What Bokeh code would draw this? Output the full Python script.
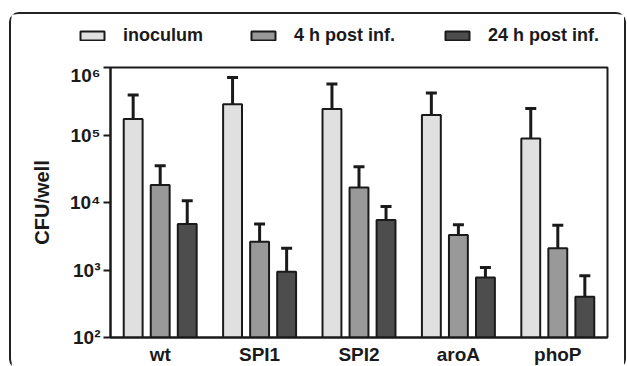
from bokeh.plotting import figure
from bokeh.layouts import column
from bokeh.models import (FactorRange, Range1d, FixedTicker, Whisker, TeeHead,
                          ColumnDataSource, Legend, LegendItem)
from bokeh.transform import dodge
from bokeh.embed import file_html
from bokeh.resources import INLINE

# ---- data ----
categories = ["wt", "SPI1", "SPI2", "aroA", "phoP"]
series_names = ["inoculum", "4 h post inf.", "24 h post inf."]
inoculum = [1.72e5, 2.86e5, 2.42e5, 1.97e5, 8.9e4]
inoculum_upper = [3.9e5, 7.1e5, 5.7e5, 4.2e5, 2.47e5]
h4 = [1.81e4, 2.62e3, 1.67e4, 3.29e3, 2.1e3]
h4_upper = [3.5e4, 4.8e3, 3.4e4, 4.7e3, 4.6e3]
h24 = [4.8e3, 940, 5.5e3, 774, 401]
h24_upper = [1.06e4, 2.1e3, 8.7e3, 1.09e3, 820]
y_ticks = [1e2, 1e3, 1e4, 1e5, 1e6]
y_tick_labels = ["10\u00b2", "10\u00b3", "10\u2074", "10\u2075", "10\u2076"]

FONT = "Liberation Sans"
INK = "#1a1a1a"
colors = ["#e0e0e0", "#999999", "#4d4d4d"]
offsets = [-0.272, 0.0, 0.272]

W = 613
LEG_H = 50
MAIN_H = 303

x_range = FactorRange(*categories, range_padding=0)

# ---------------- main chart ----------------
p = figure(width=W, height=MAIN_H, output_backend="svg", toolbar_location=None,
           x_range=x_range, y_range=Range1d(1e2, 1e6), y_axis_type="log",
           min_border_left=99, min_border_right=17, min_border_top=3,
           min_border_bottom=30)
p.background_fill_color = "white"
p.border_fill_color = "white"
p.outline_line_color = INK
p.outline_line_width = 2
p.xgrid.visible = False
p.ygrid.visible = False

# ---------------- legend strip (hidden proxy renderers) ----------------
lf = figure(width=W, height=LEG_H, output_backend="svg", toolbar_location=None,
            x_range=x_range, y_range=Range1d(1e7, 1e8), y_axis_type="log",
            x_axis_location=None, y_axis_location=None,
            min_border_left=0, min_border_right=0, min_border_top=0,
            min_border_bottom=0)
lf.outline_line_color = None
lf.xgrid.visible = False
lf.ygrid.visible = False
lf.background_fill_color = "white"
lf.border_fill_color = "white"
for fig in (p, lf):
    if "frame_align" in fig.properties():
        fig.frame_align = False

series = [(inoculum, inoculum_upper), (h4, h4_upper), (h24, h24_upper)]
leg_x = [66, 237, 431]
for (vals, ups), col, off, name, lx in zip(series, colors, offsets, series_names, leg_x):
    src = ColumnDataSource(dict(cat=categories, top=vals, upper=ups))
    p.vbar(x=dodge("cat", off, range=x_range), top="top", bottom=1e2,
           width=0.19, source=src, fill_color=col, line_color=INK, line_width=2)
    p.add_layout(Whisker(base=dodge("cat", off, range=x_range), lower="top",
                         upper="upper", source=src, line_color=INK, line_width=3,
                         lower_head=None,
                         upper_head=TeeHead(size=11, line_color=INK, line_width=3)))
    r = lf.vbar(x=dodge("cat", off, range=x_range), top="top", bottom=1e2,
                width=0.19, source=src, fill_color=col, line_color=INK, line_width=2,
                visible=False)
    lf.add_layout(Legend(items=[LegendItem(label=name, renderers=[r], index=0)],
                         location=(lx, 18), orientation="horizontal",
                         glyph_width=30, glyph_height=11, label_standoff=16,
                         padding=0, margin=0, border_line_color=None,
                         background_fill_alpha=0, inactive_fill_alpha=0,
                         label_text_font=FONT, label_text_font_style="bold",
                         label_text_font_size="18px", label_text_color=INK))

p.yaxis.ticker = FixedTicker(ticks=y_ticks)
p.yaxis.major_label_overrides = {float(t): lab for t, lab in zip(y_ticks, y_tick_labels)}
p.yaxis.minor_tick_line_color = None
p.yaxis.major_tick_out = 7
p.yaxis.major_tick_in = 0
p.yaxis.major_tick_line_width = 2
p.yaxis.major_tick_line_color = INK
p.yaxis.axis_line_width = 2
p.yaxis.axis_line_color = INK
p.yaxis.major_label_standoff = 3
p.yaxis.major_label_text_font = FONT
p.yaxis.major_label_text_font_style = "bold"
p.yaxis.major_label_text_font_size = "19px"
p.yaxis.major_label_text_color = INK
p.yaxis.axis_label = "CFU/well"
p.yaxis.axis_label_text_font = FONT
p.yaxis.axis_label_text_font_style = "bold"
p.yaxis.axis_label_text_font_size = "20px"
p.yaxis.axis_label_text_color = INK
p.yaxis.axis_label_standoff = 14

p.xaxis.major_tick_line_color = None
p.xaxis.major_tick_out = 0
p.xaxis.major_tick_in = 0
p.xaxis.axis_line_width = 2
p.xaxis.axis_line_color = INK
p.xaxis.major_label_standoff = 6
p.xaxis.major_label_text_font = FONT
p.xaxis.major_label_text_font_style = "bold"
p.xaxis.major_label_text_font_size = "19px"
p.xaxis.major_label_text_color = INK

layout = column(lf, p, spacing=0)
layout.styles = {"border": "2px solid #222222", "border-radius": "10px",
                 "margin-left": "9px", "margin-top": "12px",
                 "width": "617px", "height": "357px", "box-sizing": "border-box"}

open("out.html", "w").write(file_html(layout, INLINE))
